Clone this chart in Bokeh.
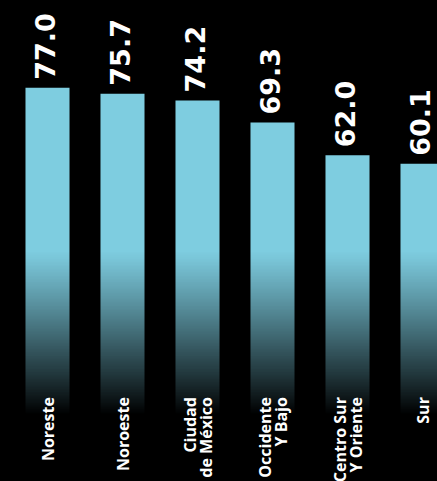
import numpy as np
from bokeh.plotting import figure
from bokeh.models import Range1d, ColumnDataSource
from bokeh.core.properties import value
from bokeh.embed import file_html
from bokeh.resources import INLINE

# ---- data ----
categories = ["Noreste", "Noroeste", "Ciudad\nde México", "Occidente\nY Bajo",
              "Centro Sur\nY Oriente", "Sur"]
values = [77.0, 75.7, 74.2, 69.3, 62.0, 60.1]
value_labels = ["77.0", "75.7", "74.2", "69.3", "62.0", "60.1"]

positions = list(range(len(categories)))

W, H = 437, 481
BAR_COLOR = "#7ECDE0"
PITCH = 75.0      # px per category
LINE_GAP = 16     # px between label lines

x_start = -47 / PITCH
x_end = x_start + W / PITCH
y_start, y_end = -10.54, 96.42

p = figure(width=W, height=H, output_backend="svg", toolbar_location=None,
           x_range=Range1d(x_start, x_end), y_range=Range1d(y_start, y_end),
           min_border=0, background_fill_color="black", border_fill_color="black")
p.axis.visible = False
p.grid.visible = False
p.outline_line_color = None

src = ColumnDataSource(dict(x=positions, top=values, lab=value_labels))

p.vbar(x="x", top="top", bottom=0, width=0.587, source=src,
       fill_color=BAR_COLOR, line_color=None)

# fade-to-black overlay (style decoration)
n = 300
fade_top, fade_bottom = 40.8, 4.5
ys = np.linspace(y_start, fade_top, n)
t = np.clip((fade_top - ys) / (fade_top - fade_bottom), 0, 1)
alpha = t ** 1.1
img = np.zeros((n, 1), dtype=np.uint32)
view = img.view(dtype=np.uint8).reshape((n, 1, 4))
view[:, 0, 3] = (alpha * 255).astype(np.uint8)
p.image_rgba(image=[img], x=x_start, y=y_start, dw=x_end - x_start, dh=fade_top - y_start)

# value labels
p.text(x="x", y="top", text="lab", source=src, angle=np.pi / 2,
       text_align="left", text_baseline="middle", y_offset=-8, x_offset=-3,
       text_color="white", text_font=value("DejaVu Sans"), text_font_style="bold",
       text_font_size="27px")

# category labels, one text per line
lx, ltxt, loff = [], [], []
for pos, cat in zip(positions, categories):
    lines = cat.split("\n")
    for i, ln in enumerate(lines):
        lx.append(pos)
        ltxt.append(ln)
        loff.append((i - (len(lines) - 1) / 2) * LINE_GAP)
lsrc = ColumnDataSource(dict(x=lx, t=ltxt, off=loff))
p.text(x="x", y=0, text="t", x_offset="off", source=lsrc, angle=np.pi / 2,
       text_align="right", text_baseline="middle", y_offset=-37,
       text_color="white", text_font=value("Open Sans"), text_font_style="bold",
       text_font_size="16px")

template = ('{% block preamble %}'
            '<style>html,body{background:#000 !important;}</style>{% endblock %}')

open("out.html", "w").write(file_html(p, INLINE, template=template))
